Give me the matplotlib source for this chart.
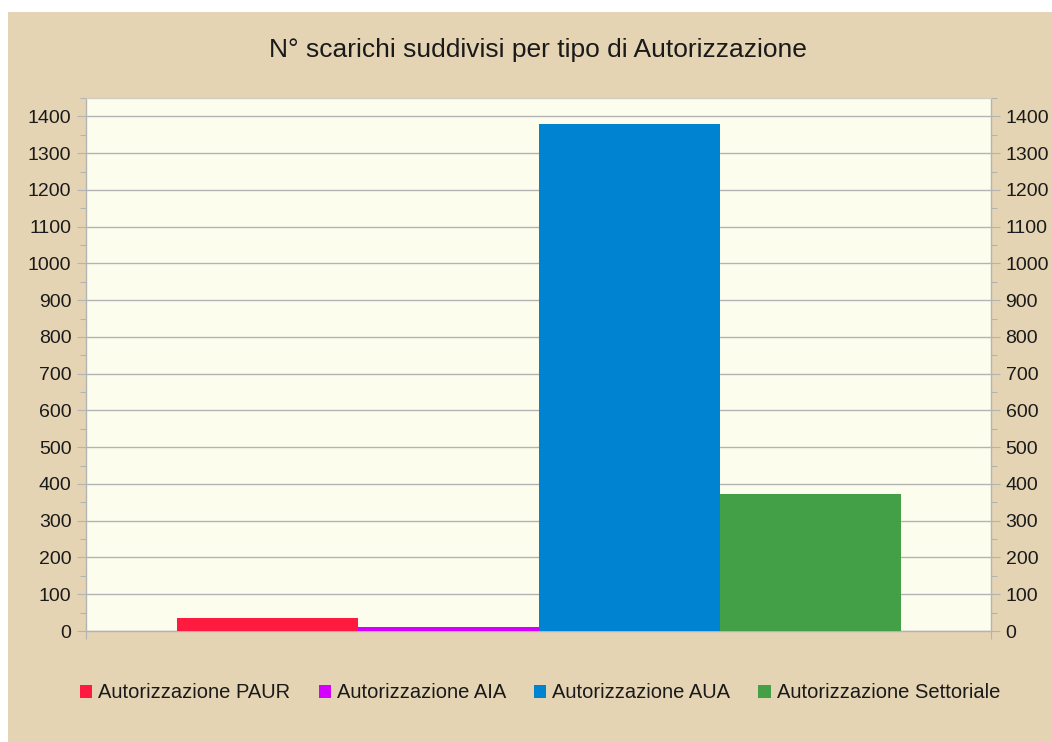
import matplotlib
matplotlib.use("Agg")
import matplotlib.pyplot as plt
from matplotlib.patches import Patch, Rectangle
from matplotlib.ticker import MultipleLocator

plt.rcParams['font.family'] = ['Liberation Sans', 'DejaVu Sans']

title = "N° scarichi suddivisi per tipo di Autorizzazione"
series = ["Autorizzazione PAUR", "Autorizzazione AIA", "Autorizzazione AUA", "Autorizzazione Settoriale"]
values = [35, 10, 1378, 372]
colors = ["#ff1a40", "#d400ff", "#0083d1", "#43a047"]

W, H = 1052, 742
fig = plt.figure(figsize=(W / 100, H / 100), dpi=100, facecolor="white")
fig.patches.append(Rectangle((8 / W, 0), 1 - 8 / W, 1 - 12 / H, transform=fig.transFigure,
                             facecolor="#e5d4b4", edgecolor="none", zorder=-10))

ax = fig.add_axes([86 / W, 1 - 631 / H, (991 - 86) / W, (631 - 98) / H])
ax.set_zorder(1)
ax.set_facecolor("#fdfded")

n = len(values)
bw = 0.8 / n
for i, (lab, v, c) in enumerate(zip(series, values, colors)):
    ax.bar(-0.4 + bw * (i + 0.5), v, width=bw, color=c, label=lab, zorder=3)

ax.set_xlim(-0.5, 0.5)
ax.set_ylim(0, 1450)
gray = "#b3b3b3"
ax.yaxis.set_major_locator(MultipleLocator(100))
ax.yaxis.set_minor_locator(MultipleLocator(50))
ax.grid(axis="y", which="major", color=gray, linewidth=1, zorder=1)
ax.set_axisbelow(True)
for s in ax.spines.values():
    s.set_color(gray)
    s.set_linewidth(1)
ax.spines["top"].set_color("#d0cdc4")

ax.set_xticks([-0.5, 0.5])
ax.set_xticklabels([])
ax.tick_params(axis="x", length=6, width=0.8, color=gray, direction="out")
ax.tick_params(axis="y", which="major", length=6.5, width=0.8, color=gray, labelsize=14,
               pad=4, left=True, right=True, labelleft=True, labelright=True, labelcolor="#1a1a1a")
ax.tick_params(axis="y", which="minor", length=4.5, width=0.8, color=gray, left=True, right=True)

fig.text(538 / W, 1 - 50 / H, title, ha="center", va="center", fontsize=19, color="#1a1a1a")

handles = [Patch(facecolor=c, edgecolor="none") for c in colors]
fig.legend(handles, series, loc="center", bbox_to_anchor=(540 / W, 1 - 693 / H), ncol=4,
           frameon=False, fontsize=14.5, handlelength=0.6, handleheight=0.6,
           handletextpad=0.3, columnspacing=1.4, labelcolor="#1a1a1a")

fig.savefig("out.png", dpi=100, facecolor="white")
